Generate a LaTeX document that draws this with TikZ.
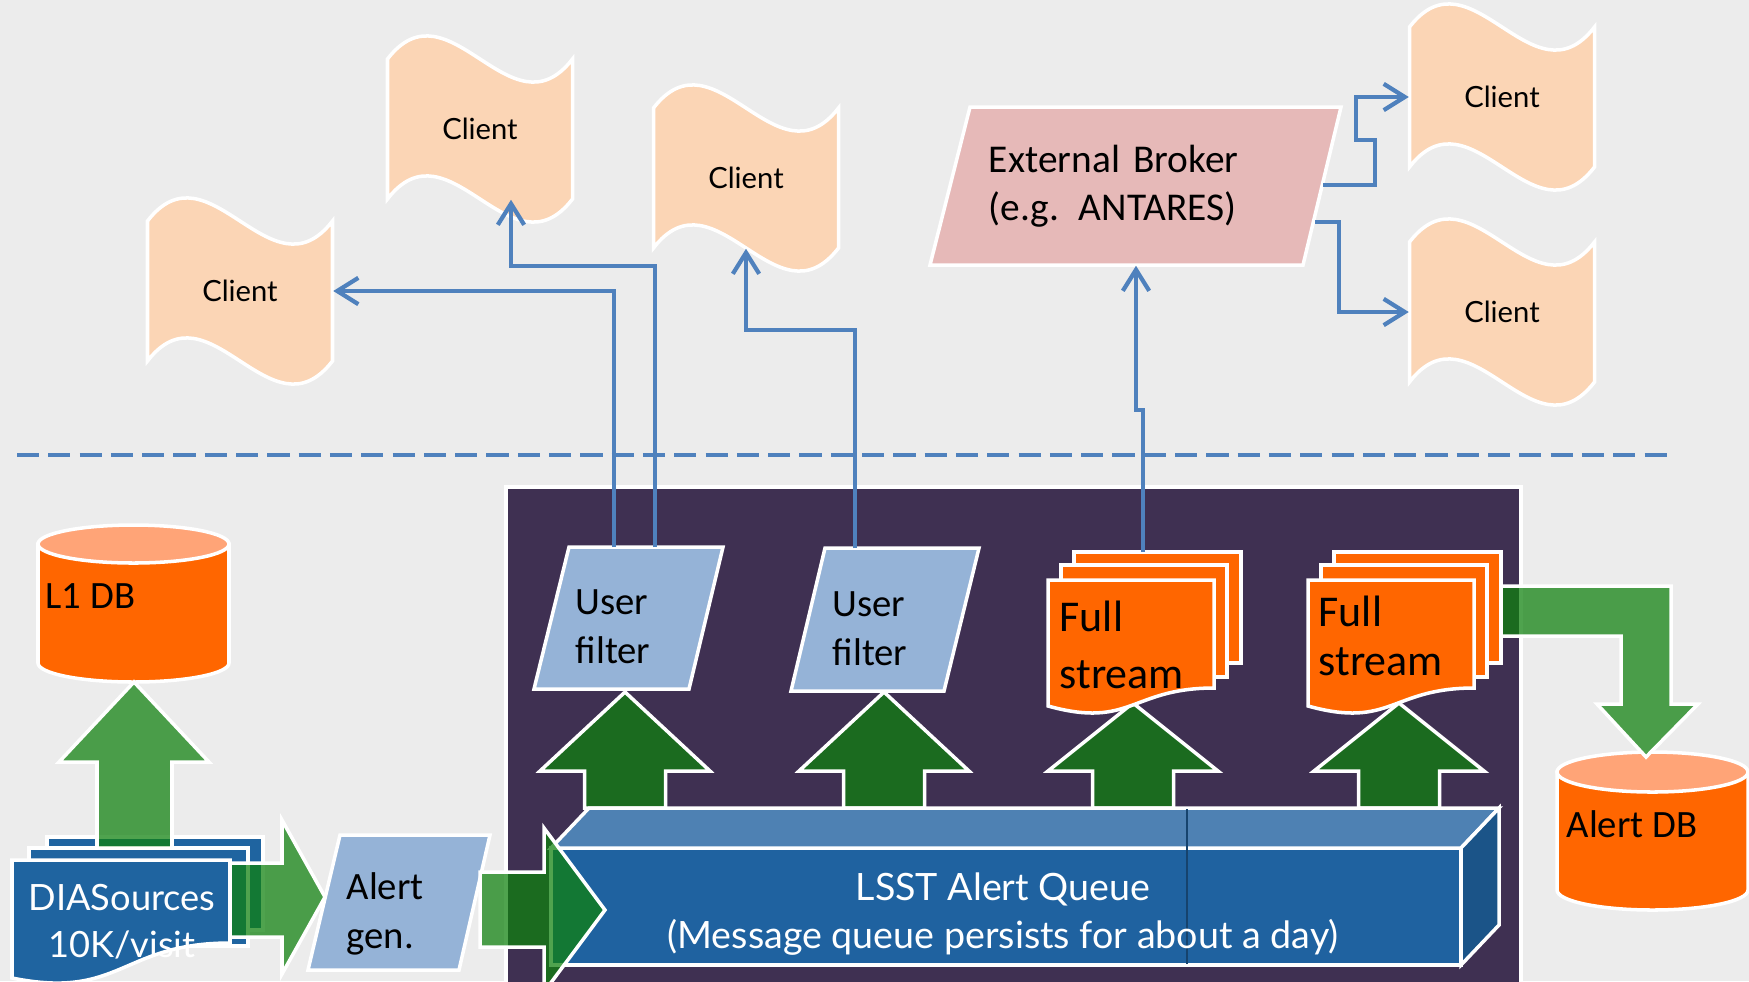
\documentclass[tikz,border=0pt]{standalone}
\usepackage{fontspec}
\setmainfont{Carlito}
\newfontfamily\gillfont{Lato}
\usepackage{tikz}
\usetikzlibrary{arrows.meta,calc}
\definecolor{bggray}{HTML}{ECECEC}
\definecolor{qpurple}{HTML}{3F3052}
\definecolor{dborange}{HTML}{FF6600}
\definecolor{dbtop}{HTML}{FFA477}
\definecolor{docblue}{HTML}{1F64A0}
\definecolor{filterblue}{HTML}{95B3D7}
\definecolor{qfront}{HTML}{1F62A0}
\definecolor{qtop}{HTML}{4E81B3}
\definecolor{qside}{HTML}{1B5488}
\definecolor{arrgreen}{HTML}{0F810D}
\definecolor{clientpeach}{HTML}{FBD5B5}
\definecolor{brokerpink}{HTML}{E6B9B8}
\definecolor{linkblue}{HTML}{4F81BD}

\begin{document}
\begin{tikzpicture}[x=0.01cm,y=0.01cm,>={Straight Barb[length=6pt,width=7.5pt]},
  wbord/.style={draw=white, line width=1pt, line join=miter},
  blockarr/.style={wbord, fill=arrgreen, fill opacity=0.73},
  link/.style={->, draw=linkblue, line width=1.2pt},
  client/.style={wbord, fill=clientpeach},
  lbl/.style={inner sep=0pt, align=left, font=\fontsize{11}{13.7}\selectfont},
  wlbl/.style={inner sep=0pt, align=center, text=white}]
  \fill[bggray] (0,0) rectangle (1749,-981);
  \useasboundingbox (0,0) rectangle (1749,-981);
  \clip (0,0) rectangle (1749,-981);
  \draw[linkblue, line width=1.1pt, dash pattern=on 6.3pt off 2.6pt] (17,-455) -- (1673,-455);
  \draw[wbord, fill=qpurple] (506,-487) rectangle (1521,-995);

  % databases
  \draw[wbord, fill=dborange] (38,-544) -- (38,-663) arc[start angle=180, end angle=360, x radius=95.5, y radius=19] -- (229,-544) -- cycle;
  \draw[wbord, fill=dbtop] (133.5,-544) ellipse[x radius=95.5, y radius=19];
  \draw[wbord, fill=dborange] (1557,-772) -- (1557,-890) arc[start angle=180, end angle=360, x radius=95.5, y radius=20] -- (1748,-772) -- cycle;
  \draw[wbord, fill=dbtop] (1652.5,-772) ellipse[x radius=95.5, y radius=20];

  % DIASources pile and its arrows
  \draw[wbord, fill=docblue] (47,-837) rectangle (263,-930);
  \draw[wbord, fill=docblue] (29,-848) rectangle (248,-946);
  \draw[blockarr] (97,-848) -- (97,-762) -- (59,-762) -- (134,-682) -- (209,-762) -- (172,-762) -- (172,-848) -- cycle;
  \draw[blockarr] (220,-863) -- (282,-863) -- (282,-820) -- (325,-897) -- (282,-974) -- (282,-937) -- (220,-937) -- cycle;
  \draw[wbord, fill=docblue] (12,-860) -- (230,-860) -- (230,-943) .. controls (121,-943) and (121,-1000) .. (12,-978) -- cycle;
  \draw[wbord, fill=filterblue] (308,-970) -- (340,-835) -- (490,-835) -- (459,-970) -- cycle;

  % queue outputs
  \foreach \cx/\tip in {625/692, 884/692, 1133/703, 1399/703}
    \draw[blockarr] (\cx-40.5,-808) -- (\cx-40.5,-771) -- (\cx-85,-771) -- (\cx,-\tip) -- (\cx+85,-771) -- (\cx+40.5,-771) -- (\cx+40.5,-808) -- cycle;
  \draw[blockarr] (1470,-586) -- (1671,-586) -- (1671,-704) -- (1698,-704) -- (1646,-757) -- (1597,-704) -- (1621,-704) -- (1621,-636) -- (1470,-636) -- cycle;

  % the queue box
  \draw[wbord, fill=qfront] (551,-848) rectangle (1461,-965);
  \draw[wbord, fill=qtop] (551,-848) -- (589,-808) -- (1499,-808) -- (1461,-848) -- cycle;
  \draw[wbord, fill=qside] (1461,-848) -- (1499,-808) -- (1499,-925) -- (1461,-965) -- cycle;
  \draw[qside!80!black, line width=0.4pt] (1187,-809) -- (1187,-964);
  \draw[blockarr] (480,-872) -- (544,-872) -- (544,-828) -- (605,-910) -- (544,-992) -- (544,-947) -- (480,-947) -- cycle;

  % filters and streams
  \draw[wbord, fill=filterblue] (534,-689) -- (569,-547) -- (723,-547) -- (689,-689) -- cycle;
  \draw[wbord, fill=filterblue] (791,-691) -- (825,-548) -- (979,-548) -- (944,-691) -- cycle;
  \foreach \x in {1048,1308} {
    \draw[wbord, fill=dborange] (\x+26,-552) rectangle (\x+193,-663);
    \draw[wbord, fill=dborange] (\x+13,-565) rectangle (\x+179,-677);
    \draw[wbord, fill=dborange] (\x,-580) -- (\x+166,-580) -- (\x+166,-688) .. controls (\x+83,-688) and (\x+83,-729) .. (\x,-706) -- cycle;
  }

  % broker and clients
  \draw[wbord, fill=brokerpink] (930,-265) -- (970,-107) -- (1341,-107) -- (1303,-265) -- cycle;
  \foreach \n/\x/\y in {clA/240/-291, clB/480/-129, clC/746/-178, clD/1502/-97, clE/1502/-312} {
    \draw[client] (\x-92.5,\y+70) .. controls (\x-30.8,\y+150) and (\x+30.8,\y-10) .. (\x+92.5,\y+70)
      -- (\x+92.5,\y-70) .. controls (\x+30.8,\y-150) and (\x-30.8,\y+10) .. (\x-92.5,\y-70) -- cycle;
    \node[inner sep=0pt, minimum width=1.85cm, minimum height=1.4cm, font=\gillfont\fontsize{8.3}{9}\selectfont] (\n) at (\x,\y) {Client};
  }

  % labels (base = last line)
  \node[lbl, anchor=base west] (l1db) at (45,-608) {L1 DB};
  \node[lbl, anchor=base west] (alertdb) at (1566,-837) {Alert DB};
  \node[lbl, anchor=base west] (alertgen) at (346,-948) {Alert\\gen.};
  \node[lbl, anchor=base west] (uf1) at (575,-663) {User\\filter};
  \node[lbl, anchor=base west] (uf2) at (832,-665) {User\\filter};
  \node[lbl, font=\fontsize{12.5}{16}\selectfont, anchor=base west] (fs1) at (1059,-688) {Full\\stream};
  \node[lbl, font=\fontsize{12.5}{13.7}\selectfont, anchor=base west] (fs2) at (1318,-675) {Full\\stream};
  \node[wlbl, font=\gillfont\fontsize{10.3}{13.2}\selectfont, anchor=base] (dia) at (122,-957) {DIASources\\10K/visit};
  \node[wlbl, font=\gillfont\fontsize{10.7}{13.4}\selectfont, anchor=base] (queue) at (1003,-948) {LSST Alert Queue\\(Message queue persists for about a day)};
  \node[lbl, font=\fontsize{11.2}{13.7}\selectfont, text width=2.94cm, minimum height=1.58cm] (broker) at (1136,-186) {External Broker\\(e.g.\hspace{0.5em}ANTARES)};

  % links
  \coordinate (uf1-a) at (614,-547);
  \coordinate (uf1-b) at (655,-547);
  \coordinate (uf2-a) at (855,-548);
  \coordinate (fs1-a) at (1143,-552);
  \coordinate (br-a) at (1323,-185);
  \coordinate (br-b) at (1315,-222);
  \draw[link] (uf1-a) |- (clA.east);
  \draw[link] (uf1-b) -- ++(0,281) -| ($(clB.south)+(31,0)$);
  \draw[link] (uf2-a) -- ++(0,218) -| (clC.south);
  \draw[link] (fs1-a) -- ++(0,142) -| (broker.south);
  \draw[link] (br-a) -- ++(52,0) -- ++(0,45) -- ++(-19,0) |- (clD.west);
  \draw[link] (br-b) -- ++(24,0) |- (clE.west);
\end{tikzpicture}
\end{document}
